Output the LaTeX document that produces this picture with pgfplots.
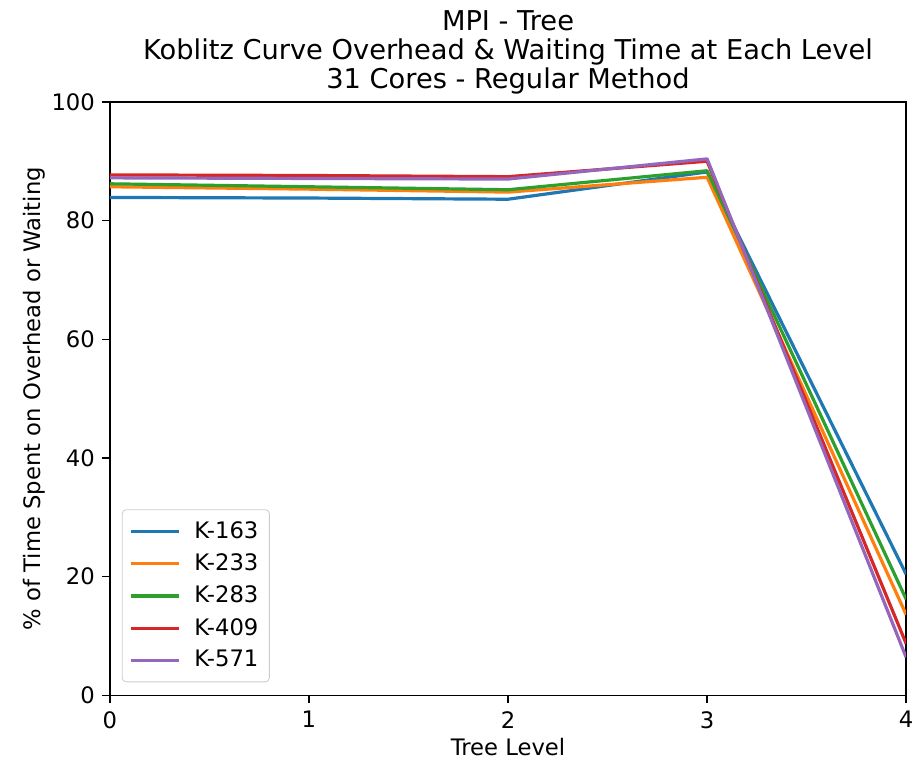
\documentclass[border=0pt]{standalone}
\usepackage{pgfplots}
\pgfplotsset{compat=1.18}
\usepackage{fontspec}
\setmainfont{DejaVu Sans}
\definecolor{c0}{HTML}{1F77B4}
\definecolor{c1}{HTML}{FF7F0E}
\definecolor{c2}{HTML}{2CA02C}
\definecolor{c3}{HTML}{D62728}
\definecolor{c4}{HTML}{9467BD}
\begin{document}
\begin{tikzpicture}
\path (-55bp,-33.5bp) rectangle (405bp,348bp);
\begin{axis}[
  at={(0,0)}, anchor=south west,
  scale only axis, width=398.5bp, height=297bp,
  xmin=0, xmax=4, ymin=0, ymax=100,
  xtick={0,1,2,3,4}, ytick={0,20,40,60,80,100},
  tick pos=left,
  tick align=outside, major tick length=4bp,
  tick style={black, line width=0.7bp},
  axis line style={line width=0.7bp},
  tick label style={font=\fontsize{11.4}{13.7}\selectfont},
  /pgf/number format/assume math mode=true,
  xticklabel style={yshift=-0.5bp},
  xlabel={Tree Level},
  ylabel={\% of Time Spent on Overhead or Waiting},
  label style={font=\fontsize{11.4}{13.7}\selectfont},
  xlabel style={at={(0.5,-0.101)}, anchor=base},
  ylabel style={at={(-0.087,0.5)}, anchor=base},
  title={MPI - Tree\\Koblitz Curve Overhead \& Waiting Time at Each Level\\31 Cores - Regular Method},
  title style={font=\fontsize{13.7}{14.5}\selectfont, align=center, at={(0.5,1)}, anchor=south, inner sep=0pt, yshift=-2.3bp},
  legend style={at={(0.015,0.022)}, anchor=south west, font=\fontsize{11.4}{13.7}\selectfont,
    draw=black!20, rounded corners=2bp, fill=white, fill opacity=0.8, text opacity=1,
    row sep=2.2bp, inner xsep=3.5bp, inner ysep=4bp,
    nodes={inner xsep=2bp}},
  legend cell align=left,
  legend image code/.code={\draw[#1] (0bp,0bp) -- (24bp,0bp);},
  every axis plot/.append style={line width=1.6bp, line join=round},
]
\addplot[c0] coordinates {(0,83.9) (1,83.8) (2,83.6) (3,88.2) (4,20.4)};
\addlegendentry{\hspace{5bp}K-163}
\addplot[c1] coordinates {(0,85.7) (1,85.3) (2,84.8) (3,87.3) (4,13.6)};
\addlegendentry{\hspace{5bp}K-233}
\addplot[c2] coordinates {(0,86.2) (1,85.7) (2,85.2) (3,88.4) (4,16.2)};
\addlegendentry{\hspace{5bp}K-283}
\addplot[c3] coordinates {(0,87.7) (1,87.6) (2,87.4) (3,90.0) (4,8.7)};
\addlegendentry{\hspace{5bp}K-409}
\addplot[c4] coordinates {(0,87.2) (1,87.1) (2,87.0) (3,90.4) (4,6.4)};
\addlegendentry{\hspace{5bp}K-571}
\end{axis}
\end{tikzpicture}
\end{document}
